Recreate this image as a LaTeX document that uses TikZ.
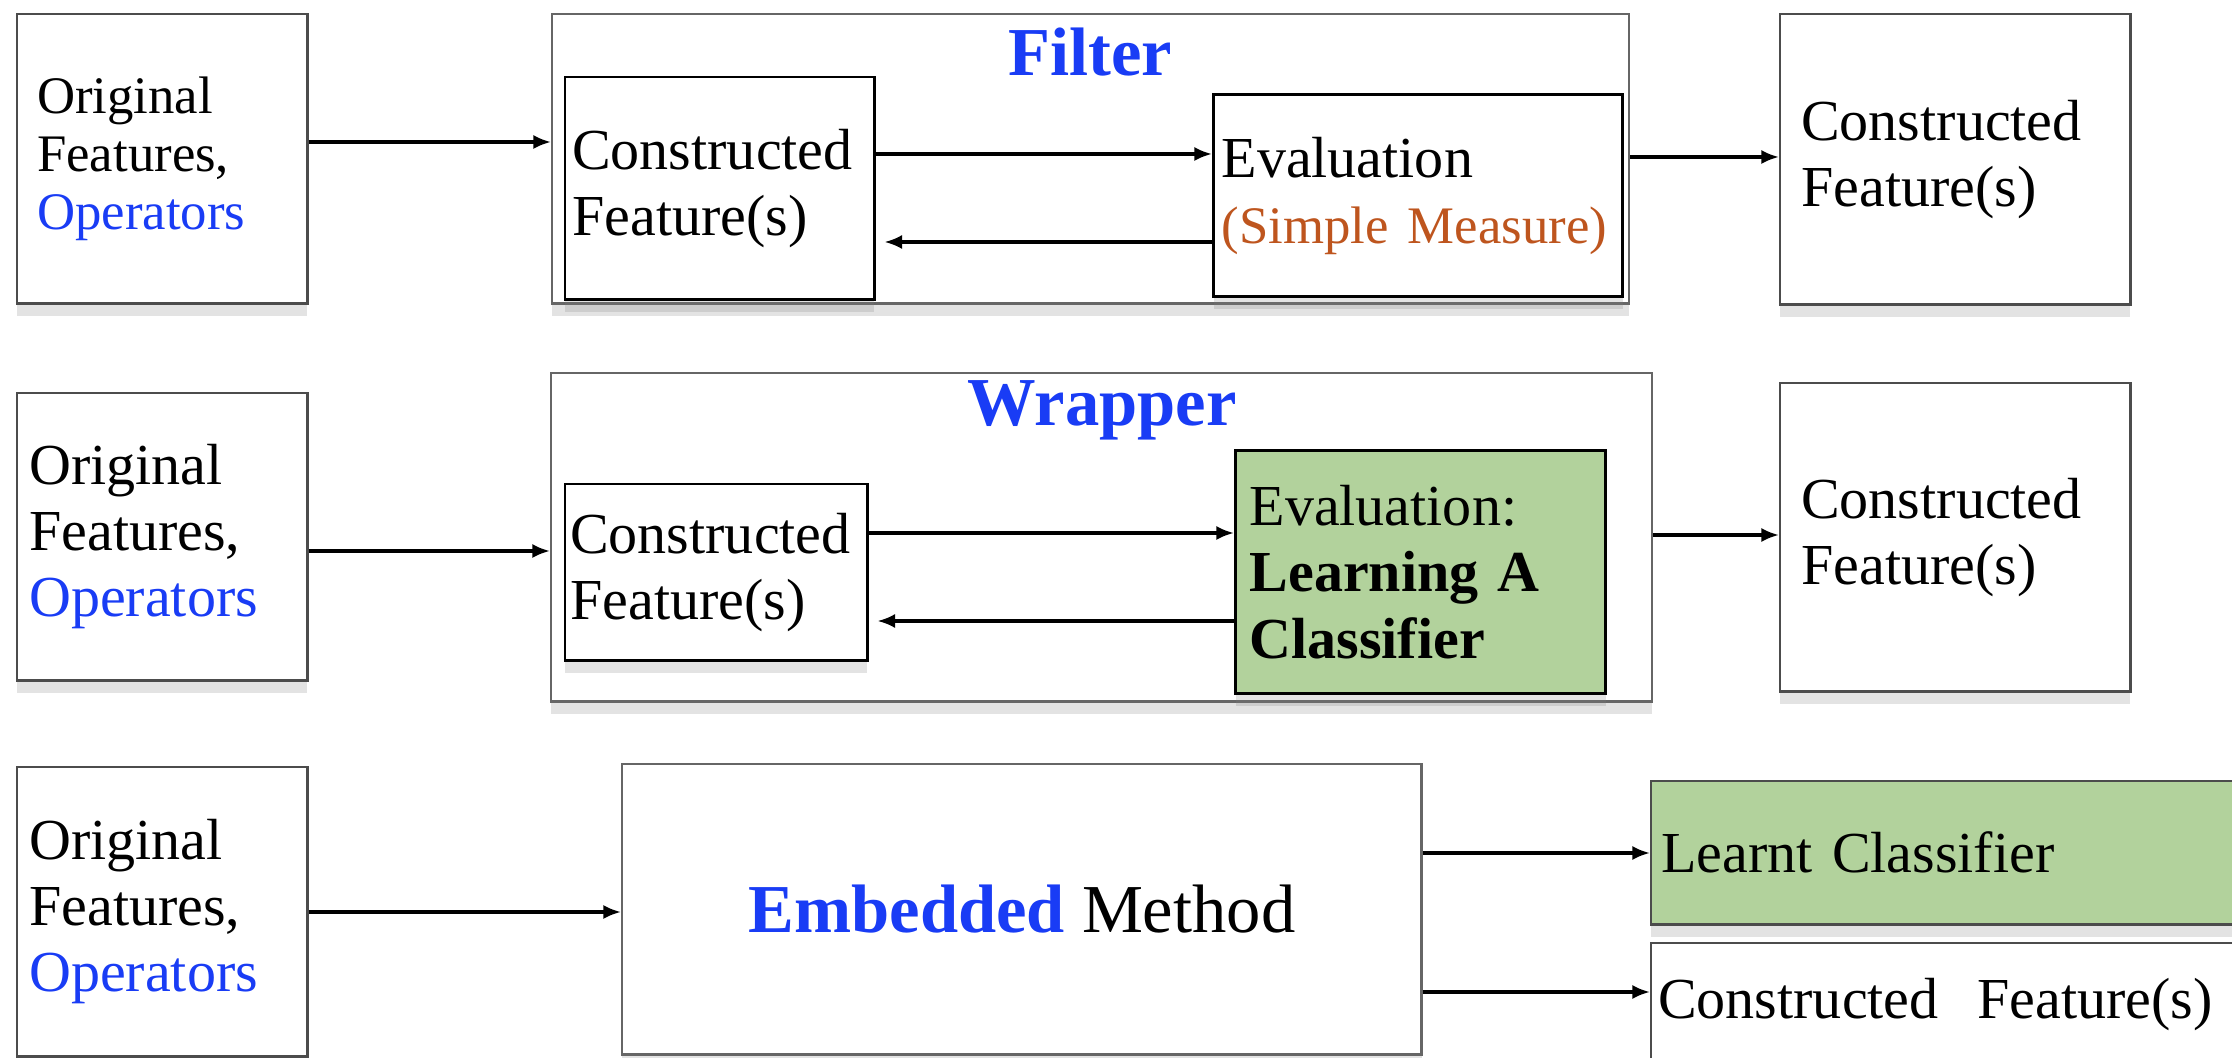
\documentclass[tikz,border=0pt]{standalone}
\usepackage{fontspec}
\setmainfont{Liberation Serif}
\usepackage{xcolor}
\usetikzlibrary{arrows.meta,shadows}

\definecolor{opblue}{RGB}{25,60,245}
\definecolor{measureorange}{RGB}{190,85,30}
\definecolor{clfgreen}{RGB}{178,210,156}

\newcommand{\txtsmall}{\fontsize{15}{16.5}\selectfont}
\newcommand{\txtmid}{\fontsize{16.5}{18.8}\selectfont}
\newcommand{\txtbig}{\fontsize{19.5}{22}\selectfont}

\begin{document}
\begin{tikzpicture}
    [x=0.01cm, y=-0.01cm,
     box/.style={draw=black!70, line width=0.7pt, fill=white, anchor=north west,
                 align=left, inner ysep=0pt, font=\txtmid,
                 drop shadow={shadow xshift=0pt, shadow yshift=-3.5pt, opacity=0.22}},
     frame/.style={box, draw=black!60},
     evalbox/.style={box, draw=black, line width=0.9pt},
     title/.style={text=opblue, font=\txtbig\bfseries},
     arr/.style={-{Latex[length=5pt,width=4pt]}, line width=0.9pt}]
    \useasboundingbox (0,0) rectangle (2232,1058);
    \clip (0,0) rectangle (2232,1058);
    % Filter
    \node[box, inner xsep=0.2cm, text width=2.5cm, minimum height=2.89cm, font=\txtsmall]
        (orig1) at (16,13) {Original\\Features,\\\textcolor{opblue}{Operators}};
    \node[frame, minimum width=10.76cm, minimum height=2.89cm] (filt) at (551,13) {};
    \node[title] (filttitle) at (1090,52) {Filter};
    \node[box, draw=black, inner xsep=0.07cm, text width=2.95cm, minimum height=2.22cm]
        (constr1) at (564,76) {Constructed\\Feature(s)};
    \node[evalbox, inner xsep=0.08cm, text width=3.93cm, minimum height=2.02cm]
        (eval1) at (1212,93)
        {Evaluation\\\mbox{\fontsize{15}{18.8}\selectfont\color{measureorange}(Simple Measure)}};
    \node[box, inner xsep=0.21cm, text width=3.08cm, minimum height=2.9cm]
        (out1) at (1779,13) {Constructed\\Feature(s)};
    %arrows filter
    \draw[arr] (orig1.east |- 0,142) -- (filt.west |- 0,142);
    \draw[arr] (constr1.east |- 0,154) -- (eval1.west |- 0,154);
    \draw[arr, shorten >=2.5pt] (eval1.west |- 0,242) -- (constr1.east |- 0,242);
    \draw[arr] (filt.east |- 0,157) -- (out1.west |- 0,157);
    % Wrapper
    \node[box, inner xsep=0.12cm, text width=2.66cm, minimum height=2.87cm]
        (orig2) at (16,392) {Original\\Features,\\\textcolor{opblue}{Operators}};
    \node[frame, minimum width=11cm, minimum height=3.28cm] (wrap) at (550,372) {};
    \node[title] (wraptitle) at (1102,410) {Wrapper};
    \node[box, draw=black, inner xsep=0.05cm, text width=2.92cm, minimum height=1.76cm]
        (constr2) at (564,483) {Constructed\\Feature(s)};
    \node[evalbox, fill=clfgreen, inner xsep=0.14cm, text width=3.42cm, minimum height=2.43cm]
        (eval2) at (1234,449) {Evaluation:\\\textbf{Learning A}\\\textbf{Classifier}};
    \node[box, inner xsep=0.21cm, text width=3.08cm, minimum height=3.08cm]
        (out2) at (1779,382) {Constructed\\Feature(s)};
    %arrows wrapper
    \draw[arr] (orig2.east |- 0,551) -- (wrap.west |- 0,551);
    \draw[arr] (constr2.east |- 0,533) -- (eval2.west |- 0,533);
    \draw[arr, shorten >=2.5pt] (eval2.west |- 0,621) -- (constr2.east |- 0,621);
    \draw[arr] (wrap.east |- 0,535) -- (out2.west |- 0,535);
    % Embedded
    \node[box, inner xsep=0.12cm, text width=2.66cm, minimum height=2.89cm]
        (orig3) at (16,766) {Original\\Features,\\\textcolor{opblue}{Operators}};
    \node[frame, minimum width=7.99cm, minimum height=2.9cm, align=center, font=\txtbig]
        (embed) at (621,763) {\textcolor{opblue}{\textbf{Embedded}} Method};
    \node[box, fill=clfgreen, inner xsep=0.1cm, text width=5.8cm, minimum height=1.43cm]
        (learnt) at (1650,780) {Learnt Classifier};
    \node[box, inner xsep=0.07cm, text width=5.86cm, minimum height=1.22cm]
        (constr3) at (1650,942) {Constructed\ \ Feature(s)};
    %arrows embedded
    \draw[arr] (orig3.east |- 0,912) -- (embed.west |- 0,912);
    \draw[arr] (embed.east |- 0,853) -- (learnt.west |- 0,853);
    \draw[arr] (embed.east |- 0,992) -- (constr3.west |- 0,992);
\end{tikzpicture}
\end{document}
